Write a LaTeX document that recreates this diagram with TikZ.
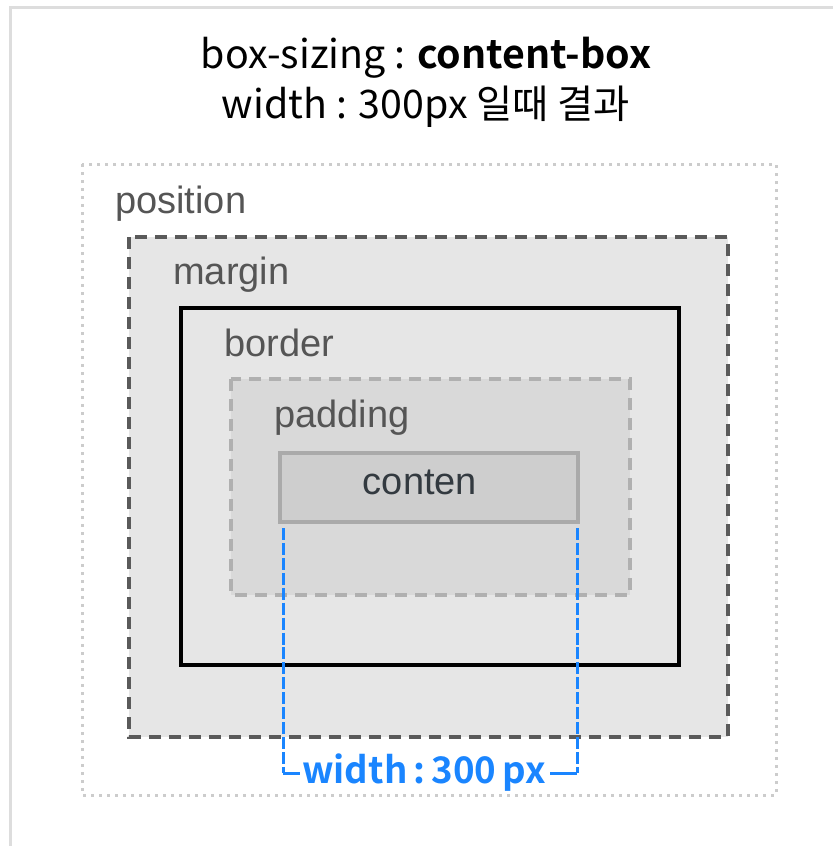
\documentclass[tikz,border=0pt]{standalone}
\usepackage{fontspec}
\setmainfont{Liberation Sans}
\newfontfamily\krfont{Noto Sans CJK KR}
\newfontfamily\krbold{Noto Sans CJK KR Bold}
\definecolor{framegray}{HTML}{DDDDDD}
\definecolor{dotgray}{HTML}{CCCCCC}
\definecolor{margingray}{HTML}{5A5A5A}
\definecolor{marginfill}{HTML}{E6E6E6}
\definecolor{padgray}{HTML}{B0B0B0}
\definecolor{padfill}{HTML}{D9D9D9}
\definecolor{contfill}{HTML}{CECECE}
\definecolor{contline}{HTML}{AAAAAA}
\definecolor{labelgray}{HTML}{555555}
\definecolor{conttext}{HTML}{333A40}
\definecolor{blueline}{HTML}{1A85FF}
\begin{document}
\begin{tikzpicture}[x=0.75pt,y=-0.75pt,
  lab/.style={anchor=base west,inner sep=0pt,text=labelgray,font=\fontsize{28.5}{30}\selectfont},
  dimline/.style={draw=blueline,line width=2.25pt,dash pattern=on 9pt off 2.2pt}]
\useasboundingbox (0,0) rectangle (833,846);
% outer frame
\draw[framegray,line width=2.25pt] (10,846) -- (10,7) -- (833,7);
% title
\node[inner sep=0pt,anchor=base,font=\krfont\fontsize{29.5}{32}\selectfont] (t1) at (426,68) {box-sizing : {\krbold content-box}};
\node[inner sep=0pt,anchor=base,font=\krfont\fontsize{29.5}{32}\selectfont] (t2) at (426,118) {width : 300px 일때 결과};
% position
\draw[dotgray,line width=2.25pt,dash pattern=on 2.25pt off 3.75pt] (82,164) rectangle (776,795);
\node[lab] (lpos) at (115,213) {position};
% margin
\draw[margingray,fill=marginfill,line width=2.5pt,dash pattern=on 9pt off 6pt] (129,237) rectangle (728,737);
\node[lab] (lmar) at (173,284) {margin};
% border
\draw[black,line width=2.5pt] (181,308) rectangle (679,665);
\node[lab] (lbor) at (224,356) {border};
% padding
\draw[padgray,fill=padfill,line width=2.5pt,dash pattern=on 9pt off 6pt] (231,379) rectangle (630,595);
\node[lab] (lpad) at (274,427) {padding};
% content
\draw[contline,fill=contfill,line width=2.5pt] (280,453) rectangle (578,522);
\node[inner sep=0pt,anchor=base,text=conttext,font=\fontsize{28.5}{30}\selectfont] (cont) at (420,494) {conten};
% width dimension
\node[inner sep=0pt,anchor=base,text=blueline,font=\krbold\fontsize{27.5}{30}\selectfont] (wlab) at (424,783) {width\,:\,300\,px};
\coordinate (lt) at (283,528);
\coordinate (lb) at (283,773);
\coordinate (rt) at (577,528);
\coordinate (rb) at (577,773);
\draw[dimline] (lt) -- (lb);
\draw[dimline] (rt) -- (rb);
\draw[blueline,line width=2.25pt] (lb) -- (300,773);
\draw[blueline,line width=2.25pt] (550,773) -- (rb);
\end{tikzpicture}
\end{document}
